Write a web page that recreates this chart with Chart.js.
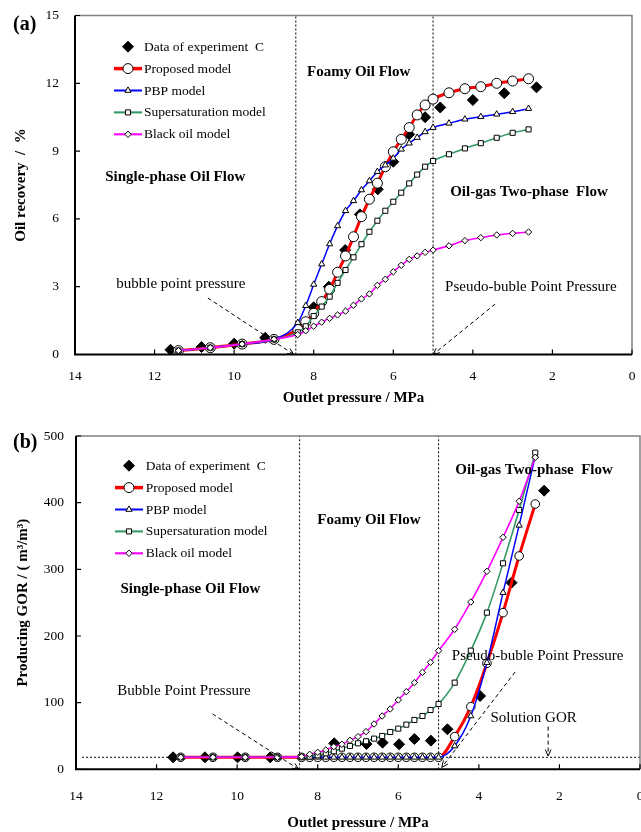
<!DOCTYPE html>
<html><head><meta charset="utf-8">
<script src="https://cdn.jsdelivr.net/npm/chart.js@4/dist/chart.umd.min.js"></script>
<style>
html,body{margin:0;padding:0;background:#fff;}
#wrap{position:relative;width:641px;height:832px;overflow:hidden;background:#fff;}
canvas{position:absolute;left:0;}
</style></head><body>
<div id="wrap">
<canvas id="ca" width="641" height="410" style="top:0px"></canvas>
<canvas id="cb" width="641" height="430" style="top:410px"></canvas>
</div>
<script>
const FONT = "'Liberation Serif', 'Times New Roman', serif";

// ---------- series names ----------
const seriesNames = ['Data of experiment  C', 'Proposed model', 'PBP model', 'Supersaturation model', 'Black oil model'];

// ---------- Panel (a): oil recovery (%) vs outlet pressure (MPa) ----------
const expA_P = [11.6, 10.82, 10.0, 9.22, 8.0, 7.62, 7.21, 6.84, 6.39, 6.0, 5.6, 5.2, 4.82, 4.0, 3.21, 2.4];
const expA_R = [0.21, 0.33, 0.48, 0.74, 2.09, 3.0, 4.62, 6.2, 7.31, 8.53, 9.74, 10.5, 10.93, 11.26, 11.56, 11.82];
const modelA_P = [11.4, 10.6, 9.8, 9.0, 8.4, 8.2, 8.0, 7.8, 7.6, 7.4, 7.2, 7.0, 6.8, 6.6, 6.4, 6.2, 6.0, 5.8, 5.6, 5.4, 5.2, 5.0, 4.6, 4.2, 3.8, 3.4, 3.0, 2.6];
const proposedA = [0.17, 0.30, 0.46, 0.67, 1.11, 1.45, 1.82, 2.34, 2.88, 3.64, 4.36, 5.21, 6.10, 6.87, 7.58, 8.31, 8.97, 9.52, 10.04, 10.6, 11.04, 11.3, 11.58, 11.76, 11.85, 12.0, 12.1, 12.2];
const pbpA      = [0.17, 0.30, 0.46, 0.67, 1.41, 2.16, 3.10, 4.00, 4.89, 5.69, 6.36, 6.80, 7.28, 7.68, 8.09, 8.38, 8.68, 9.08, 9.35, 9.60, 9.85, 10.04, 10.23, 10.41, 10.52, 10.63, 10.74, 10.88];
const supersatA = [0.17, 0.30, 0.46, 0.67, 0.98, 1.25, 1.70, 2.12, 2.56, 3.17, 3.74, 4.30, 4.88, 5.43, 5.92, 6.36, 6.76, 7.16, 7.57, 7.96, 8.31, 8.56, 8.86, 9.12, 9.35, 9.59, 9.81, 9.96];
const blackOilA = [0.17, 0.30, 0.46, 0.67, 0.88, 1.05, 1.25, 1.43, 1.60, 1.75, 1.92, 2.18, 2.46, 2.68, 3.06, 3.33, 3.66, 3.95, 4.21, 4.36, 4.52, 4.62, 4.81, 5.04, 5.17, 5.29, 5.36, 5.42];

// ---------- Panel (b): producing GOR (m3/m3) vs outlet pressure (MPa) ----------
const expB_P = [11.59, 10.8, 9.99, 9.18, 7.59, 6.79, 6.39, 5.98, 5.6, 5.19, 4.78, 3.97, 3.19, 2.38];
const expB_G = [18, 18, 18, 18, 39, 38, 40, 37.5, 45.5, 43, 60, 110, 280, 418];
const modelB_P = [11.4, 10.6, 9.8, 9.0, 8.4, 8.2, 8.0, 7.8, 7.6, 7.4, 7.2, 7.0, 6.8, 6.6, 6.4, 6.2, 6.0, 5.8, 5.6, 5.4, 5.2, 5.0, 4.6, 4.2, 3.8, 3.4, 3.0, 2.6];
const proposedB = [18, 18, 18, 18, 18, 18, 18, 18, 18, 18, 18, 18, 18, 18, 18, 18, 18, 18, 18, 18, 18, 18, 49, 94, 159, 235, 320, 398];
const pbpB      = [18, 18, 18, 18, 18, 18, 18, 18, 18, 18, 18, 18, 18, 18, 18, 18, 18, 18, 18, 18, 18, 18, 35, 80, 160, 265, 366, 470];
const supersatB = [18, 18, 18, 18, 18, 19, 21, 24, 27, 31, 35, 39, 42, 46, 50, 56, 61, 67, 74, 80, 89, 98, 130, 178, 235, 309, 389, 475];
const blackOilB = [18, 18, 18, 18, 19, 22.5, 25.5, 29, 34, 37.5, 43.5, 49, 56.5, 68, 80, 90.5, 104, 116.5, 130, 145.5, 160.5, 178, 210, 251, 297, 348, 402, 468];

// ---------- reference pressures / levels ----------
const bubblePointP = 8.45;
const pseudoBubbleP = 5.0;
const solutionGOR = 18;

// ---------- axis tick settings ----------
const xTickStep = 2, xMin = 0, xMax = 14;
const yTickStepA = 3, yMaxA = 15;
const yTickStepB = 100, yMaxB = 500;

function pts(xs, ys) { return xs.map((x, i) => ({ x: x, y: ys[i] })); }

const STY = {
  exp:   { style: 'rectRot', fill: '#000', line: null },
  prop:  { style: 'circle', fill: '#fff', line: '#FF0000', lw: 3 },
  pbp:   { style: 'triangle', fill: '#fff', line: '#0000FF', lw: 1.5 },
  sup:   { style: 'rect', fill: '#fff', line: '#339966', lw: 1.6 },
  black: { style: 'rectRot', fill: '#fff', line: '#FF00FF', lw: 1.6 }
};

function modelDs(label, P, V, s, r, order) {
  return {
    label: label, data: pts(P, V), showLine: true, borderColor: s.line, borderWidth: s.lw,
    pointStyle: s.style, pointRadius: r, pointBackgroundColor: s.fill, pointBorderColor: '#000',
    pointBorderWidth: 1, cubicInterpolationMode: 'monotone', order: order
  };
}
function refLine(P, V, dash) {
  return { label: 'ref', data: pts(P, V), showLine: true, borderColor: '#000', borderWidth: 1,
    borderDash: dash, pointRadius: 0, order: 10 };
}

function drawMarker(ctx, style, x, y, r, fill) {
  ctx.save();
  ctx.beginPath();
  if (style === 'circle') {
    ctx.arc(x, y, r, 0, Math.PI * 2);
  } else if (style === 'triangle') {
    let a = 0;
    ctx.moveTo(x + Math.sin(a) * r, y - Math.cos(a) * r);
    a += 2 * Math.PI / 3; ctx.lineTo(x + Math.sin(a) * r, y - Math.cos(a) * r);
    a += 2 * Math.PI / 3; ctx.lineTo(x + Math.sin(a) * r, y - Math.cos(a) * r);
    ctx.closePath();
  } else if (style === 'rect') {
    const h = r * Math.SQRT1_2;
    ctx.rect(x - h, y - h, 2 * h, 2 * h);
  } else if (style === 'rectRot') {
    ctx.moveTo(x - r, y); ctx.lineTo(x, y - r); ctx.lineTo(x + r, y); ctx.lineTo(x, y + r); ctx.closePath();
  }
  ctx.fillStyle = fill; ctx.fill();
  ctx.strokeStyle = '#000'; ctx.lineWidth = 1; ctx.stroke();
  ctx.restore();
}

function arrow(ctx, x1, y1, x2, y2) {
  ctx.save();
  ctx.strokeStyle = '#000'; ctx.lineWidth = 1;
  ctx.setLineDash([4, 3]);
  ctx.beginPath(); ctx.moveTo(x1, y1); ctx.lineTo(x2, y2); ctx.stroke();
  ctx.setLineDash([]);
  const a = Math.atan2(y2 - y1, x2 - x1), L = 7, sp = 0.42;
  ctx.beginPath();
  ctx.moveTo(x2 - L * Math.cos(a - sp), y2 - L * Math.sin(a - sp));
  ctx.lineTo(x2, y2);
  ctx.lineTo(x2 - L * Math.cos(a + sp), y2 - L * Math.sin(a + sp));
  ctx.stroke();
  ctx.restore();
}

const decor = {
  id: 'decor',
  afterDraw(chart, args, o) {
    const ctx = chart.ctx;
    const xs = chart.scales.x, ys = chart.scales.y;
    const { left, right, top, bottom } = chart.chartArea;
    ctx.save();
    // frame
    ctx.strokeStyle = '#808080'; ctx.lineWidth = 1.5;
    ctx.beginPath(); ctx.moveTo(left, top); ctx.lineTo(right, top); ctx.lineTo(right, bottom); ctx.stroke();
    ctx.strokeStyle = '#000'; ctx.lineWidth = 2;
    ctx.beginPath(); ctx.moveTo(left, top); ctx.lineTo(left, bottom); ctx.lineTo(right, bottom); ctx.stroke();
    // inward ticks
    ctx.lineWidth = 1.2;
    ctx.beginPath();
    xs.ticks.forEach(t => { const px = xs.getPixelForValue(t.value); ctx.moveTo(px, bottom); ctx.lineTo(px, bottom - 5); });
    ys.ticks.forEach(t => { const py = ys.getPixelForValue(t.value); ctx.moveTo(left, py); ctx.lineTo(left + 5, py); });
    ctx.stroke();
    // arrows
    (o.arrows || []).forEach(a => arrow(ctx, xs.getPixelForValue(a[0]), ys.getPixelForValue(a[1]), xs.getPixelForValue(a[2]), ys.getPixelForValue(a[3])));
    // texts
    ctx.fillStyle = '#000'; ctx.textBaseline = 'middle'; ctx.textAlign = 'center';
    (o.texts || []).forEach(t => {
      ctx.font = (t.bold ? 'bold ' : '') + t.size + 'px ' + FONT;
      ctx.fillText(t.t, xs.getPixelForValue(t.x), ys.getPixelForValue(t.y));
    });
    // panel label
    ctx.textAlign = 'left';
    ctx.font = 'bold 20px ' + FONT;
    ctx.fillText(o.panel.t, o.panel.x, o.panel.y);
    // legend
    const L = o.legend;
    const styles = [STY.exp, STY.prop, STY.pbp, STY.sup, STY.black];
    ctx.font = '13.5px ' + FONT;
    seriesNames.forEach((name, i) => {
      const y = top + L.dy + i * L.step;
      const s = styles[i];
      const x0 = left + L.lx0, x1 = left + L.lx1, xm = (x0 + x1) / 2;
      if (s.line) {
        ctx.strokeStyle = s.line; ctx.lineWidth = s.lw + 0.5;
        ctx.beginPath(); ctx.moveTo(x0, y); ctx.lineTo(x1, y); ctx.stroke();
      }
      drawMarker(ctx, s.style, xm, y, L.r[i], s.fill);
      ctx.fillStyle = '#000'; ctx.textAlign = 'left'; ctx.textBaseline = 'middle';
      ctx.fillText(name, left + L.tx, y + 0.5);
    });
    ctx.restore();
  }
};

function makeChart(id, cfg) {
  const tickFont = { family: FONT, size: 13.5 };
  const titleFont = { family: FONT, size: 15, weight: 'bold' };
  return new Chart(document.getElementById(id), {
    type: 'scatter',
    data: { datasets: cfg.datasets },
    options: {
      responsive: false, animation: false, devicePixelRatio: 1,
      layout: { padding: cfg.padding, autoPadding: false },
      plugins: { legend: { display: false }, tooltip: { enabled: false }, decor: cfg.decor },
      scales: {
        x: {
          type: 'linear', reverse: true, min: xMin, max: xMax,
          grid: { display: false }, border: { display: false },
          ticks: { stepSize: xTickStep, font: tickFont, color: '#000', padding: cfg.xPad, maxRotation: 0 },
          title: { display: true, text: 'Outlet pressure / MPa', font: titleFont, color: '#000', padding: { top: 0, bottom: 0 } },
          afterFit: s => { s.height = cfg.xH; s.paddingLeft = 0; s.paddingRight = 0; }
        },
        y: {
          type: 'linear', min: 0, max: cfg.yMax,
          grid: { display: false }, border: { display: false },
          ticks: { stepSize: cfg.yStep, font: tickFont, color: '#000', padding: cfg.yPad },
          title: { display: true, text: cfg.yTitle, font: titleFont, color: '#000', padding: { top: cfg.yTitlePad, bottom: 0 } },
          afterFit: s => { s.width = cfg.yW; s.paddingTop = 0; s.paddingBottom = 0; }
        }
      }
    },
    plugins: [decor]
  });
}

// ---------- Panel (a) ----------
makeChart('ca', {
  datasets: [
    modelDs(seriesNames[4], modelA_P, blackOilA, STY.black, 3.2, 1),
    modelDs(seriesNames[3], modelA_P, supersatA, STY.sup, 3.6, 2),
    modelDs(seriesNames[2], modelA_P, pbpA, STY.pbp, 3.6, 3),
    modelDs(seriesNames[1], modelA_P, proposedA, STY.prop, 5, 4),
    { label: seriesNames[0], data: pts(expA_P, expA_R), showLine: false, pointStyle: 'rectRot', pointRadius: 5.5,
      pointBackgroundColor: '#000', pointBorderColor: '#000', order: 5 },
    refLine([bubblePointP, bubblePointP], [0, yMaxA], [2, 2]),
    refLine([pseudoBubbleP, pseudoBubbleP], [0, yMaxA], [2, 2])
  ],
  padding: { left: 0, right: 9, top: 15.5, bottom: 3 },
  xH: 52.5, yW: 75, xPad: 6, yPad: 8, yTitlePad: 12,
  yMax: yMaxA, yStep: yTickStepA, yTitle: 'Oil recovery  /  %',
  decor: {
    panel: { t: '(a)', x: 13, y: 25 },
    legend: { dy: 31.2, step: 21.9, lx0: 39, lx1: 67, tx: 69, r: [5.5, 5, 3.6, 3.6, 3.2] },
    texts: [
      { t: 'Single-phase Oil Flow', x: 11.48, y: 7.87, bold: true, size: 15 },
      { t: 'Foamy Oil Flow', x: 6.87, y: 12.51, bold: true, size: 15 },
      { t: 'Oil-gas Two-phase  Flow', x: 2.59, y: 7.2, bold: true, size: 15 },
      { t: 'bubble point pressure', x: 11.34, y: 3.12, size: 15 },
      { t: 'Pseudo-buble Point Pressure', x: 2.54, y: 3.0, size: 15 }
    ],
    arrows: [[10.66, 2.5, 8.5, 0.0], [3.44, 2.23, 5.0, 0.0]]
  }
});

// ---------- Panel (b) ----------
makeChart('cb', {
  datasets: [
    modelDs(seriesNames[4], modelB_P, blackOilB, STY.black, 3.2, 1),
    modelDs(seriesNames[3], modelB_P, supersatB, STY.sup, 3.6, 2),
    modelDs(seriesNames[2], modelB_P, pbpB, STY.pbp, 3.6, 3),
    modelDs(seriesNames[1], modelB_P, proposedB, STY.prop, 4.3, 4),
    { label: seriesNames[0], data: pts(expB_P, expB_G), showLine: false, pointStyle: 'rectRot', pointRadius: 5.5,
      pointBackgroundColor: '#000', pointBorderColor: '#000', order: 5 },
    refLine([bubblePointP, bubblePointP], [0, yMaxB], [2, 2]),
    refLine([pseudoBubbleP, pseudoBubbleP], [0, yMaxB], [2, 2]),
    refLine([13.85, 0], [solutionGOR, solutionGOR], [2, 2])
  ],
  padding: { left: 0, right: 1, top: 26, bottom: 7.5 },
  xH: 63.2, yW: 76, xPad: 11, yPad: 4, yTitlePad: 14,
  yMax: yMaxB, yStep: yTickStepB, yTitle: 'Producing GOR / ( m³/m³)',
  decor: {
    panel: { t: '(b)', x: 13, y: 33.3 },
    legend: { dy: 29.7, step: 21.9, lx0: 39, lx1: 67, tx: 69.7, r: [5.5, 5, 3.6, 3.6, 3.2] },
    texts: [
      { t: 'Oil-gas Two-phase  Flow', x: 2.63, y: 449, bold: true, size: 15 },
      { t: 'Foamy Oil Flow', x: 6.73, y: 374, bold: true, size: 15 },
      { t: 'Single-phase Oil Flow', x: 11.16, y: 270.5, bold: true, size: 15 },
      { t: 'Bubble Point Pressure', x: 11.32, y: 117.5, size: 15 },
      { t: 'Pseudo-buble Point Pressure', x: 2.54, y: 170, size: 15 },
      { t: 'Solution GOR', x: 2.64, y: 77, size: 15 }
    ],
    arrows: [[10.61, 83, 8.47, 0], [3.10, 146, 4.92, 3], [2.28, 64, 2.28, 20]]
  }
});
</script>
</body></html>
